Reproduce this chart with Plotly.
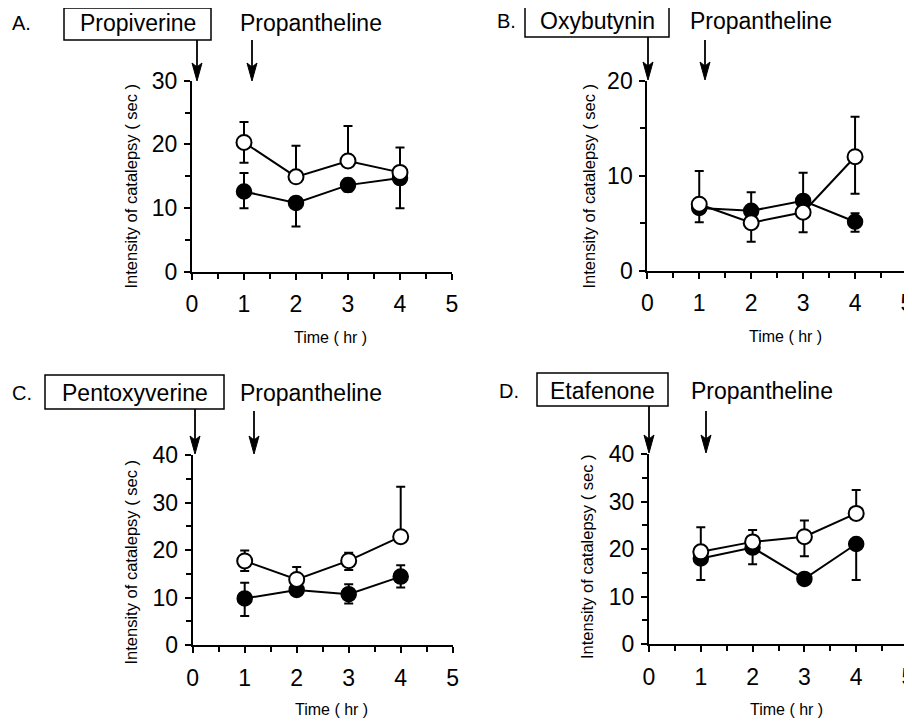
import plotly.graph_objects as go

W, H = 912, 721
OFF = 8  # default page body margin
FONT = "Liberation Sans, Arial, Helvetica, sans-serif"

times = [1, 2, 3, 4]

# Panel A: Propiverine  (open = control, filled = + propantheline)
a_open = [20.3, 14.9, 17.4, 15.6]
a_open_up = [3.2, 4.9, 5.5, 3.9]
a_open_dn = [3.2, 0, 0, 0]
a_fill = [12.6, 10.8, 13.6, 14.7]
a_fill_up = [2.9, 0, 1.0, 0]
a_fill_dn = [2.65, 3.7, 1.0, 4.75]

# Panel B: Oxybutynin
b_open = [7.0, 5.05, 6.15, 12.0]
b_open_up = [3.5, 0, 0, 4.2]
b_open_dn = [0, 2.0, 2.1, 3.9]
b_fill = [6.6, 6.3, 7.35, 5.15]
b_fill_up = [0, 1.95, 2.95, 0.9]
b_fill_dn = [1.5, 0, 0, 1.05]

# Panel C: Pentoxyverine
c_open = [17.7, 13.8, 17.75, 22.8]
c_open_up = [2.2, 2.6, 1.65, 10.5]
c_open_dn = [2.1, 0, 1.95, 0]
c_fill = [9.8, 11.6, 10.7, 14.4]
c_fill_up = [3.3, 0, 2.1, 2.4]
c_fill_dn = [3.7, 0, 1.95, 2.3]

# Panel D: Etafenone
d_open = [19.4, 21.5, 22.6, 27.5]
d_open_up = [5.2, 2.5, 3.4, 4.9]
d_open_dn = [0, 0, 4.1, 0]
d_fill = [18.0, 20.3, 13.7, 21.05]
d_fill_up = [0, 0, 0, 0]
d_fill_dn = [4.5, 3.5, 0, 7.6]

panel_letters = ["A.", "B.", "C.", "D."]
drug_names = ["Propiverine", "Oxybutynin", "Pentoxyverine", "Etafenone"]
second_drug = "Propantheline"
y_max = [30, 20, 40, 40]
x_ticks = [0, 1, 2, 3, 4, 5]
y_title = "Intensity of catalepsy ( sec )"
x_title = "Time ( hr )"


def px(x):
    return (x - OFF) / W


def py(y):
    return 1 - (y - OFF) / H


# plot-area geometry in screen pixels: (x0, x1, ytop, ybottom)
geom = [
    (192, 452, 80.7, 271.7),
    (647.3, 907, 80.7, 270.7),
    (192.7, 452.7, 455, 645),
    (649, 908, 454, 644),
]

series = [
    (a_open, a_open_up, a_open_dn, a_fill, a_fill_up, a_fill_dn),
    (b_open, b_open_up, b_open_dn, b_fill, b_fill_up, b_fill_dn),
    (c_open, c_open_up, c_open_dn, c_fill, c_fill_up, c_fill_dn),
    (d_open, d_open_up, d_open_dn, d_fill, d_fill_up, d_fill_dn),
]

fig = go.Figure()

for i, (op, opu, opd, fi, fiu, fid) in enumerate(series):
    xa = "x" if i == 0 else f"x{i+1}"
    ya = "y" if i == 0 else f"y{i+1}"
    fig.add_trace(go.Scatter(
        x=times, y=fi, xaxis=xa, yaxis=ya, mode="lines+markers",
        line=dict(color="black", width=2),
        marker=dict(symbol="circle", size=15, color="black", line=dict(color="black", width=1.5)),
        error_y=dict(type="data", symmetric=False, array=fiu, arrayminus=fid, visible=True,
                     color="black", thickness=2, width=4.5),
        cliponaxis=False, showlegend=False))
    fig.add_trace(go.Scatter(
        x=times, y=op, xaxis=xa, yaxis=ya, mode="lines+markers",
        line=dict(color="black", width=2),
        marker=dict(symbol="circle", size=15, color="white", line=dict(color="black", width=2)),
        error_y=dict(type="data", symmetric=False, array=opu, arrayminus=opd, visible=True,
                     color="black", thickness=2, width=4.5),
        cliponaxis=False, showlegend=False))

layout = dict(
    template="none",
    width=W, height=H, margin=dict(l=0, r=0, t=0, b=0, autoexpand=False),
    paper_bgcolor="white", plot_bgcolor="white",
    font=dict(family=FONT, color="black"),
    showlegend=False,
)

for i, (x0, x1, yt, yb) in enumerate(geom):
    xk = "xaxis" if i == 0 else f"xaxis{i+1}"
    yk = "yaxis" if i == 0 else f"yaxis{i+1}"
    ya = "y" if i == 0 else f"y{i+1}"
    xa = "x" if i == 0 else f"x{i+1}"
    layout[xk] = dict(
        domain=[px(x0), px(x1)], range=[0, 5], anchor=ya, automargin=False,
        tickvals=x_ticks, ticktext=[str(t) for t in x_ticks],
        showline=True, linecolor="black", linewidth=2,
        ticks="outside", ticklen=6, tickwidth=1.5, tickcolor="black",
        minor=dict(dtick=0.5, ticks="outside", ticklen=5, tickwidth=1.5, tickcolor="black"),
        showgrid=False, zeroline=False,
        tickfont=dict(size=23, family=FONT, color="black"),
        ticklabelstandoff=5,
    )
    layout[yk] = dict(
        domain=[py(yb), py(yt)], range=[0, y_max[i]], anchor=xa, automargin=False,
        dtick=10, tick0=0,
        showline=True, linecolor="black", linewidth=2,
        ticks="outside", ticklen=6, tickwidth=1.5, tickcolor="black",
        minor=dict(dtick=5, ticks="outside", ticklen=5, tickwidth=1.5, tickcolor="black"),
        showgrid=False, zeroline=False,
        tickfont=dict(size=23, family=FONT, color="black"),
        ticklabelstandoff=2,
    )

annotations = []
shapes = []

# header geometry (screen px):
# letter_x, box_x0, box_x1, box_y0, box_y1, text_cy, prop_x0,
# arrow1_x, arrow1_y0, arrow2_x, arrow2_y0, arrow_tip
hdr = [
    (10, 64, 211, 8, 40, 23, 238, 197, 40, 252, 40, 81),
    (495, 525, 669, 5, 37, 21.5, 688, 648, 37, 705, 40, 80),
    (10, 45, 224, 375, 409, 393, 238, 195, 409, 254, 411, 454),
    (497, 537, 668, 373, 406, 391, 689, 649, 406, 706, 411, 453),
]

ytitle_pos = [(130, 186.5), (588, 186.5), (130, 562.5), (587, 557)]
xtitle_pos = [(330, 337), (785, 336), (331, 709), (786, 709)]

HEAD_L, HEAD_W, NOTCH = 18, 5, 4

for i, h in enumerate(hdr):
    lx, bx0, bx1, by0, by1, cy, prx, a1x, a1y0, a2x, a2y0, tip = h
    annotations.append(dict(
        x=px(lx), y=py(cy), xref="paper", yref="paper", xanchor="left", yanchor="middle",
        text=panel_letters[i], showarrow=False, font=dict(size=20, family=FONT, color="black")))
    shapes.append(dict(type="rect", xref="paper", yref="paper",
                       x0=px(bx0), x1=px(bx1), y0=py(by1), y1=py(by0),
                       line=dict(color="black", width=1.5), fillcolor="rgba(0,0,0,0)"))
    annotations.append(dict(
        x=px((bx0 + bx1) / 2), y=py(cy), xref="paper", yref="paper", xanchor="center", yanchor="middle",
        text=drug_names[i], showarrow=False, font=dict(size=23, family=FONT, color="black")))
    annotations.append(dict(
        x=px(prx), y=py(cy), xref="paper", yref="paper", xanchor="left", yanchor="middle",
        text=second_drug, showarrow=False, font=dict(size=23, family=FONT, color="black")))
    for ax_, ay0 in ((a1x, a1y0), (a2x, a2y0)):
        shapes.append(dict(type="line", xref="paper", yref="paper",
                           x0=px(ax_), x1=px(ax_), y0=py(ay0), y1=py(tip - HEAD_L + NOTCH + 1),
                           line=dict(color="black", width=1.8)))
        path = (f"M{px(ax_)},{py(tip)} "
                f"L{px(ax_ - HEAD_W)},{py(tip - HEAD_L)} "
                f"L{px(ax_)},{py(tip - HEAD_L + NOTCH)} "
                f"L{px(ax_ + HEAD_W)},{py(tip - HEAD_L)} Z")
        shapes.append(dict(type="path", xref="paper", yref="paper", path=path,
                           fillcolor="black", line=dict(color="black", width=1)))
    tx, tyc = ytitle_pos[i]
    annotations.append(dict(
        x=px(tx), y=py(tyc), xref="paper", yref="paper", xanchor="center", yanchor="middle",
        text=y_title, textangle=-90, showarrow=False, font=dict(size=16.5, family=FONT, color="black")))
    xx, xy = xtitle_pos[i]
    annotations.append(dict(
        x=px(xx), y=py(xy), xref="paper", yref="paper", xanchor="center", yanchor="middle",
        text=x_title, showarrow=False, font=dict(size=16, family=FONT, color="black")))

layout["annotations"] = annotations
layout["shapes"] = shapes
fig.update_layout(**layout)

fig.write_html("out.html")
